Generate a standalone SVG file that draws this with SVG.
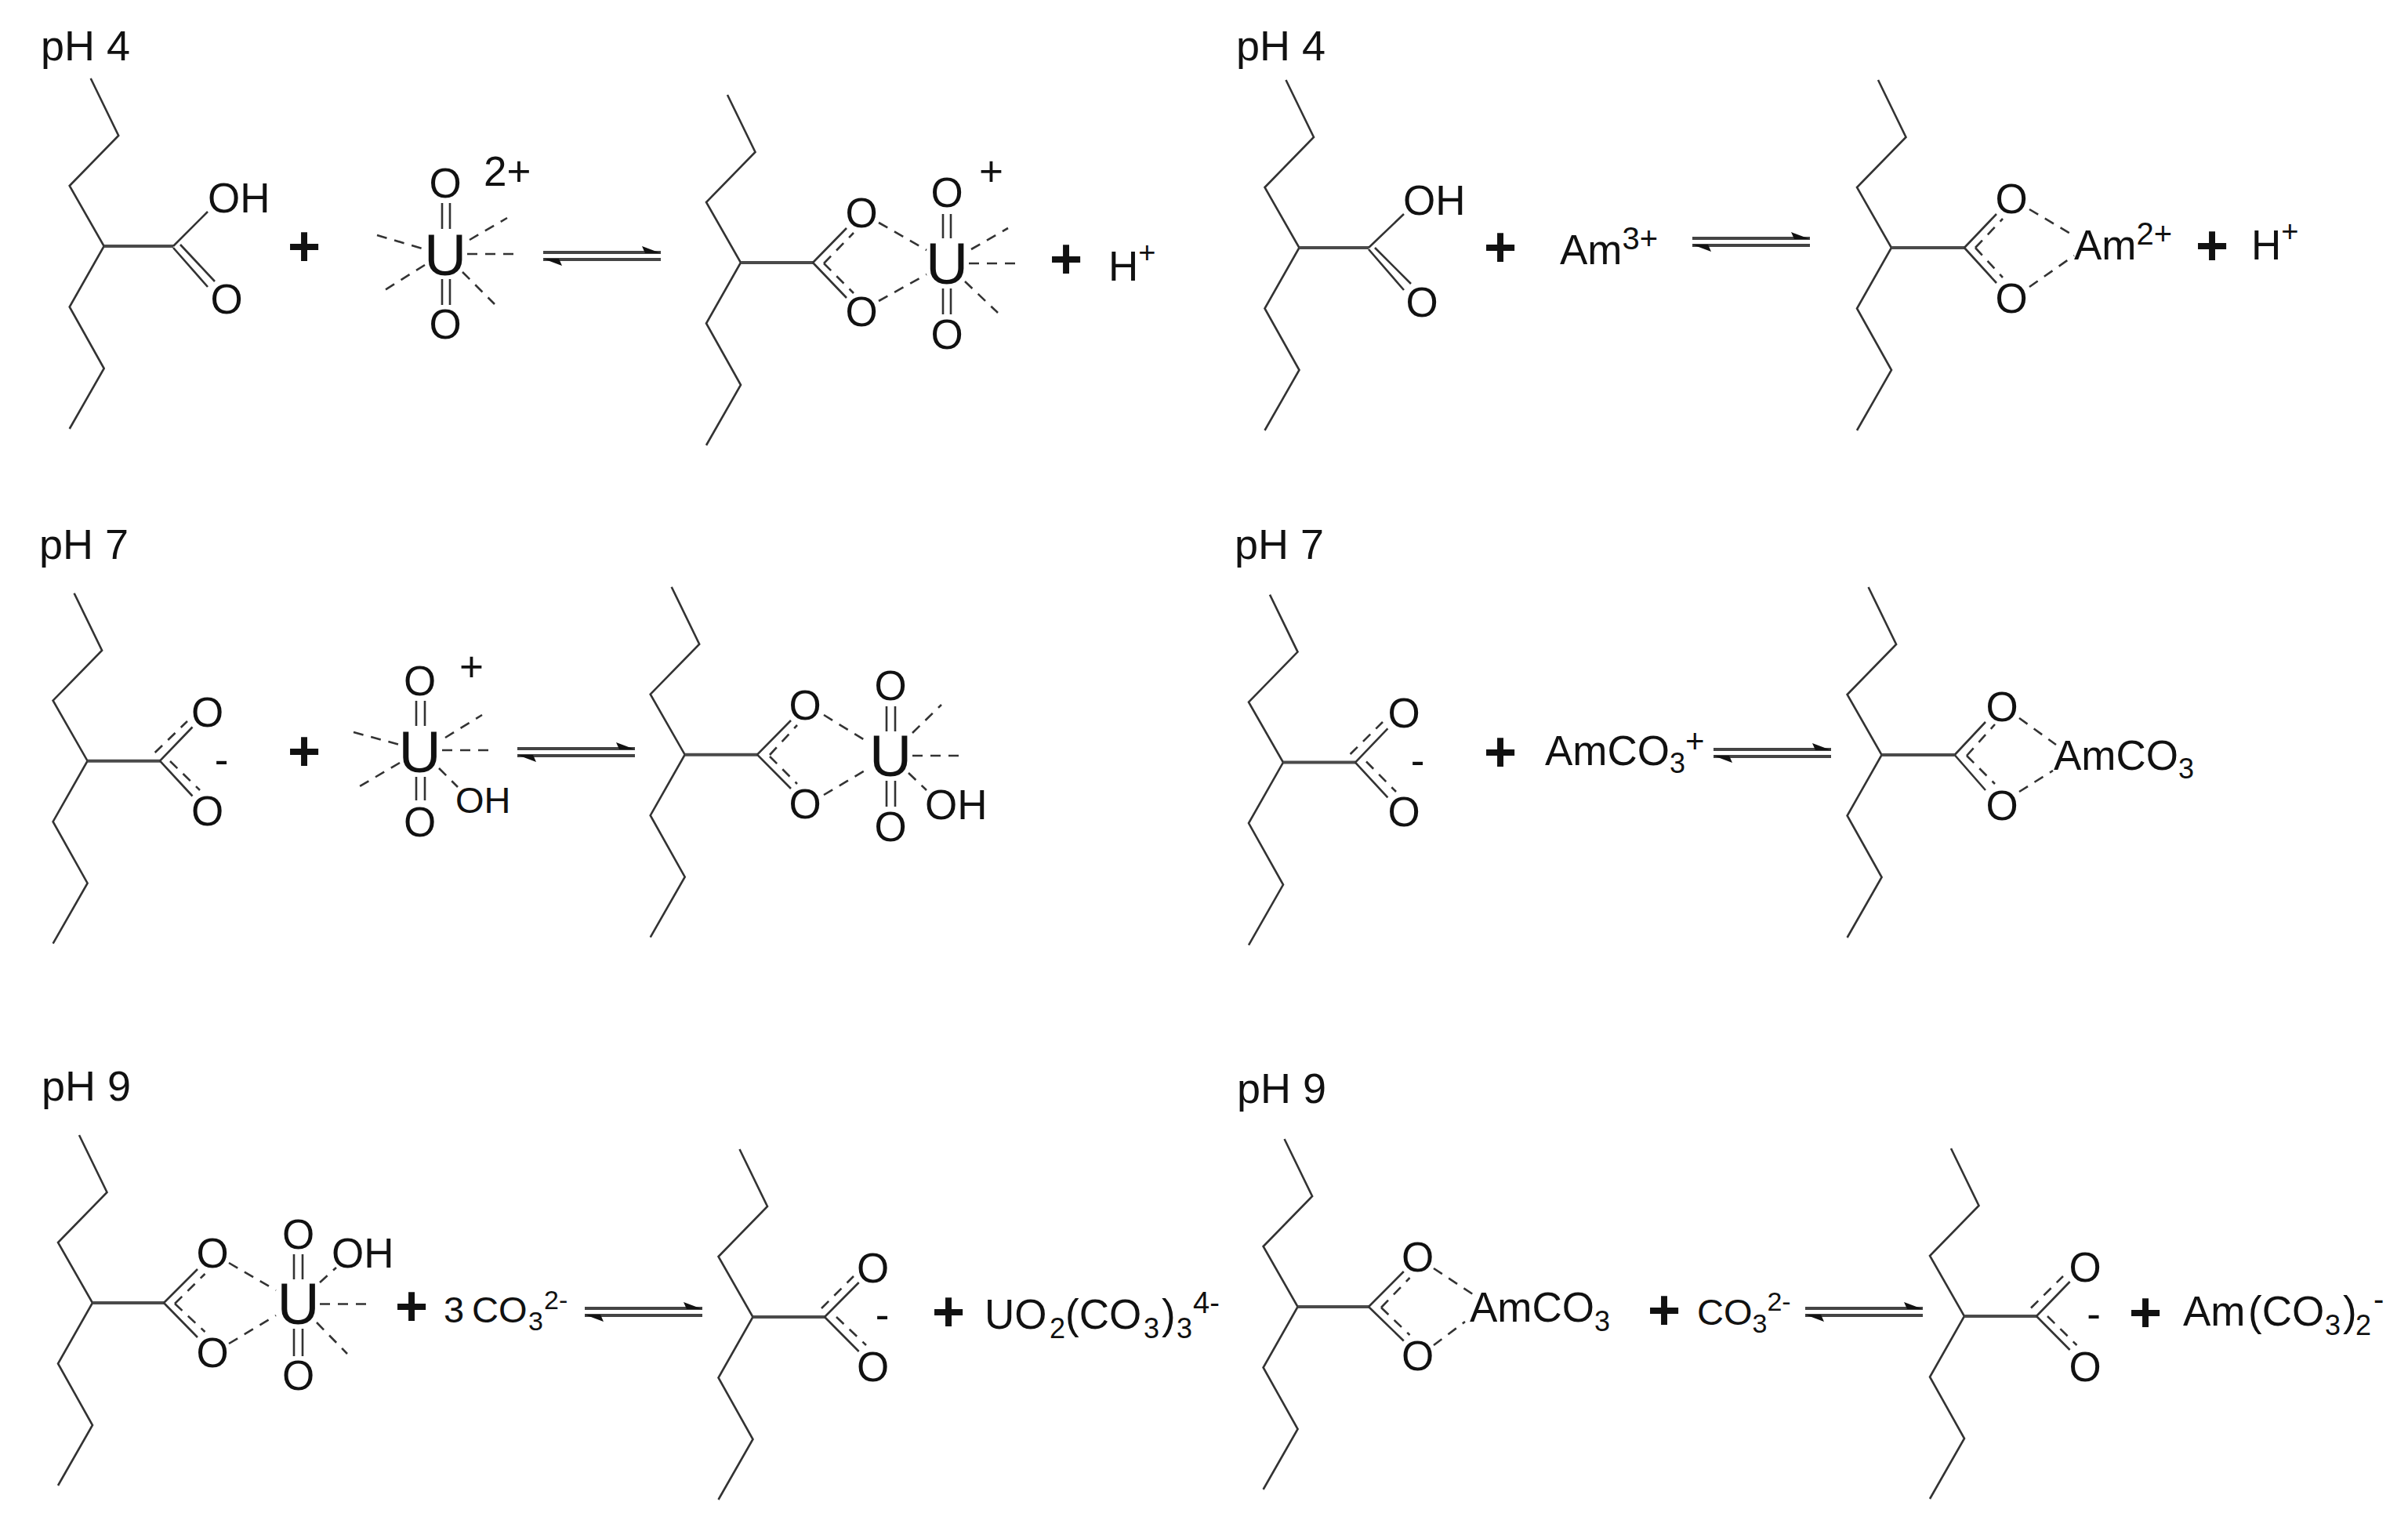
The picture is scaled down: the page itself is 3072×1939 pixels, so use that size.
<svg xmlns="http://www.w3.org/2000/svg" xmlns:xlink="http://www.w3.org/1999/xlink" width="3072" height="1939" viewBox="0 0 3072 1939">
<style>
text{font-family:"Liberation Sans",Arial,sans-serif;fill:#111;font-size:53px}
.m{text-anchor:middle}
.u{font-size:75px;text-anchor:middle}
.p{font-size:72px;font-weight:bold;text-anchor:middle}
.ph{font-size:54px}
.sm{font-size:47px}
.b{fill:none;stroke:#333;stroke-width:2.6}
.c{fill:none;stroke:#4a4a4a;stroke-width:4}
.d{fill:none;stroke:#333;stroke-width:2.6;stroke-dasharray:13 10}
.el{fill:none;stroke:#444;stroke-width:4}
.eh{fill:#111}
</style>
<defs>
<path id="chain" class="b" d="M-17 -214L18.5 -141L-44 -77L0 0L-44 77.5L0 156L-44 233"/>
<g id="eq"><path class="el" d="M0 0H150M0 9H150"/><path class="eh" d="M150 1L126 -8L130 1ZM0 8L24 17L20 8Z"/></g>
</defs>
<rect width="3072" height="1939" fill="#fff"/>

<g id="connectors">
<use href="#eq" x="693" y="322"/>
<use href="#eq" x="2159" y="304"/>
<use href="#eq" x="660" y="955"/>
<use href="#eq" x="2186" y="956"/>
<use href="#eq" x="746" y="1669"/>
<use href="#eq" x="2303" y="1669"/>
</g>

<g id="labels">
<text class="ph" x="52" y="77">pH 4</text>
<text class="ph" x="1577" y="77">pH 4</text>
<text class="ph" x="50" y="713">pH 7</text>
<text class="ph" x="1575" y="713">pH 7</text>
<text class="ph" x="53" y="1404">pH 9</text>
<text class="ph" x="1578" y="1407">pH 9</text>
</g>

<g id="plus-signs">
<text class="p" x="388" y="339">+</text>
<text class="p" x="1360" y="355">+</text>
<text class="p" x="1914" y="340">+</text>
<text class="p" x="2822" y="338">+</text>
<text class="p" x="388" y="983">+</text>
<text class="p" x="1914" y="984">+</text>
<text class="p" x="525" y="1691">+</text>
<text class="p" x="1210" y="1698">+</text>
<text class="p" x="2123" y="1696">+</text>
<text class="p" x="2737" y="1699">+</text>
</g>

<!-- Row 1 left -->
<g id="acid-u-ph4">
<use href="#chain" x="132.7" y="314"/>
<path class="c" d="M132.7 314H221"/>
<path class="b" d="M221 314L265 270M221 316L265 366M230 312L274 359"/>
<text x="265" y="271">OH</text>
<text class="m" x="289" y="400">O</text>
</g>
<g id="uranyl-ph4">
<text class="u" x="568" y="351">U</text>
<text class="m" x="568" y="252">O</text>
<text class="m" x="568" y="432">O</text>
<path class="b" d="M564 259V292M574 259V292M564 356V389M574 356V389"/>
<path class="d" d="M481 300L542 318M599 306L647 278M596 324H660M542 338L491 370M590 347L631 388"/>
<text x="617" y="237">2+</text>
</g>
<g id="complex-u-ph4">
<use href="#chain" x="945" y="335"/>
<path class="c" d="M945 335H1037"/>
<path class="b" d="M1037 335L1080 291M1037 335L1080 380"/>
<path class="d" d="M1051 336L1089 297M1051 336L1089 374M1121 284L1182 319M1121 384L1182 350"/>
<text class="m" x="1099" y="290">O</text>
<text class="m" x="1099" y="416">O</text>
<text class="u" x="1208" y="362">U</text>
<text class="m" x="1208" y="264">O</text>
<text class="m" x="1208" y="445">O</text>
<path class="b" d="M1203 273V304M1213 273V304M1203 368V401M1213 368V401"/>
<path class="d" d="M1239 318L1286 291M1236 336H1298M1231 359L1273 399"/>
<text x="1249" y="237">+</text>
</g>
<g id="proton-u-ph4"><text x="1414" y="358">H<tspan font-size="38" dy="-23">+</tspan></text></g>

<!-- Row 1 right -->
<g id="acid-am-ph4">
<use href="#chain" x="1657.5" y="316"/>
<path class="c" d="M1657.5 316H1746"/>
<path class="b" d="M1746 316L1791 273M1746 318L1791 370M1754 316L1800 362"/>
<text x="1790" y="274">OH</text>
<text class="m" x="1814" y="404">O</text>
</g>
<g id="am3"><text x="1990" y="337">Am<tspan font-size="40" dy="-19">3+</tspan></text></g>
<g id="complex-am-ph4">
<use href="#chain" x="2413" y="316"/>
<path class="c" d="M2413 316H2506"/>
<path class="b" d="M2506 316L2547 273M2506 316L2547 361"/>
<path class="d" d="M2520 316L2555 279M2520 316L2555 354M2589 267L2648 302M2589 366L2646 326"/>
<text class="m" x="2566" y="272">O</text>
<text class="m" x="2566" y="399">O</text>
<text x="2646" y="331">Am<tspan font-size="40" dy="-19">2+</tspan></text>
</g>
<g id="proton-am-ph4"><text x="2872" y="331">H<tspan font-size="38" dy="-23">+</tspan></text></g>

<!-- Row 2 left -->
<g id="carboxylate-u-ph7">
<use href="#chain" x="111.6" y="970.7"/>
<path class="c" d="M111.6 970.7H204"/>
<path class="b" d="M204 970.7L245.5 927.5M204 970.7L245.5 1015.5"/>
<path class="d" d="M197.7 960L239 920M217 971L255 1008"/>
<text class="m" x="264.7" y="927">O</text>
<text class="m" x="264.7" y="1053">O</text>
<text class="m" x="282.5" y="987">-</text>
</g>
<g id="uranyl-ph7">
<text class="u" x="535.7" y="985">U</text>
<text class="m" x="535.7" y="887">O</text>
<text class="m" x="535.7" y="1067">O</text>
<path class="b" d="M531 894V926M542 894V926M531 991V1021M542 991V1021"/>
<path class="d" d="M451 934L510 950M568 941L615 912M564 957H628M510 973L459 1003M560 980L584 1004"/>
<text x="586" y="869">+</text>
<text class="sm" x="581" y="1037">OH</text>
</g>
<g id="complex-u-ph7">
<use href="#chain" x="873.7" y="962.7"/>
<path class="c" d="M873.7 962.7H966"/>
<path class="b" d="M966 962.7L1009 919M966 962.7L1009 1006"/>
<path class="d" d="M982 963L1017 925M982 965L1017 1000M1051 912L1108 947M1051 1014L1110 979"/>
<text class="m" x="1027" y="918">O</text>
<text class="m" x="1027" y="1044">O</text>
<text class="u" x="1136" y="990">U</text>
<text class="m" x="1136" y="893">O</text>
<text class="m" x="1136" y="1073">O</text>
<path class="b" d="M1131 901V933M1142 901V933M1131 996V1029M1142 996V1029"/>
<path class="d" d="M1164 935L1201 899M1164 964H1226M1159 986L1182 1008"/>
<text x="1180" y="1045">OH</text>
</g>

<!-- Row 2 right -->
<g id="carboxylate-am-ph7">
<use href="#chain" x="1637" y="972.6"/>
<path class="c" d="M1637 972.6H1729"/>
<path class="b" d="M1729 972.6L1770.4 929.4M1729 972.6L1770.4 1017.4"/>
<path class="d" d="M1722.6 962L1764 921M1743 971.5L1781 1010"/>
<text class="m" x="1791" y="928">O</text>
<text class="m" x="1791" y="1054">O</text>
<text class="m" x="1808.7" y="988">-</text>
</g>
<g id="amco3-plus"><text x="1971" y="976">AmCO<tspan font-size="36" dy="10">3</tspan><tspan font-size="42" dy="-26">+</tspan></text></g>
<g id="complex-am-ph7">
<use href="#chain" x="2400.6" y="963"/>
<path class="c" d="M2400.6 963H2493.6"/>
<path class="b" d="M2493.6 963L2533 921M2493.6 963L2533 1008"/>
<path class="d" d="M2509 964L2545 924M2509 964L2545 1000M2576 916L2623 950M2576 1010L2619 983"/>
<text class="m" x="2554" y="920">O</text>
<text class="m" x="2554" y="1046">O</text>
<text x="2620" y="982">AmCO<tspan font-size="36" dy="11">3</tspan></text>
</g>

<!-- Row 3 left -->
<g id="complex-u-ph9">
<use href="#chain" x="118" y="1662"/>
<path class="c" d="M118 1662H209"/>
<path class="b" d="M209 1662L252 1619M209 1662L252 1706"/>
<path class="d" d="M223 1663L261.5 1625M223 1663L261.5 1699M292 1611L352 1646M292 1714L352 1678"/>
<text class="m" x="271" y="1617">O</text>
<text class="m" x="271" y="1744">O</text>
<text class="u" x="380.7" y="1689">U</text>
<text class="m" x="380.7" y="1593">O</text>
<text class="m" x="380.7" y="1773">O</text>
<path class="b" d="M375 1600V1632M386 1600V1632M375 1695V1730M386 1695V1730"/>
<path class="d" d="M408 1636L429 1617M408 1663.5H472M404 1687L443 1727"/>
<text x="423" y="1617">OH</text>
</g>
<g id="carbonate-3"><text class="sm" x="566" y="1687">3</text><text class="sm" x="602" y="1687">CO<tspan x="674" y="1697" font-size="34">3</tspan><tspan x="694" y="1670" font-size="34">2-</tspan></text></g>
<g id="carboxylate-u-ph9">
<use href="#chain" x="960.5" y="1680"/>
<path class="c" d="M960.5 1680H1052"/>
<path class="b" d="M1052 1680L1095.7 1636M1052 1680L1095.7 1724"/>
<path class="d" d="M1048 1669L1089 1628M1067 1680L1105 1716"/>
<text class="m" x="1113.5" y="1636">O</text>
<text class="m" x="1113.5" y="1762">O</text>
<text class="m" x="1125.6" y="1695">-</text>
</g>
<g id="uranyl-carbonate"><text x="1256" y="1695" font-size="54">UO<tspan x="1339" y="1707" font-size="36">2</tspan><tspan x="1359" y="1695">(CO</tspan><tspan x="1459" y="1707" font-size="36">3</tspan><tspan x="1482" y="1695">)</tspan><tspan x="1501" y="1707" font-size="36">3</tspan><tspan x="1522" y="1675" font-size="38">4-</tspan></text></g>

<!-- Row 3 right -->
<g id="complex-am-ph9">
<use href="#chain" x="1655.6" y="1667"/>
<path class="c" d="M1655.6 1667H1746"/>
<path class="b" d="M1746 1667L1790.8 1622M1746 1667L1790.8 1710.5"/>
<path class="d" d="M1762 1668L1798.5 1630M1762 1668L1798.5 1703M1829 1618L1879 1651M1829 1716L1869 1686"/>
<text class="m" x="1808.7" y="1622">O</text>
<text class="m" x="1808.7" y="1748">O</text>
<text x="1875" y="1686">AmCO<tspan font-size="36" dy="12">3</tspan></text>
</g>
<g id="carbonate-1"><text class="sm" x="2165" y="1690">CO<tspan font-size="34" dy="10">3</tspan><tspan font-size="34" dy="-28">2-</tspan></text></g>
<g id="carboxylate-am-ph9">
<use href="#chain" x="2506" y="1679"/>
<path class="c" d="M2506 1679H2598"/>
<path class="b" d="M2598 1679L2640.6 1635M2598 1679L2640.6 1722"/>
<path class="d" d="M2591 1668.5L2632 1628M2612 1679L2649.5 1716"/>
<text class="m" x="2660" y="1635">O</text>
<text class="m" x="2660" y="1762">O</text>
<text class="m" x="2671" y="1694">-</text>
</g>
<g id="am-carbonate"><text x="2785" y="1691">Am<tspan x="2868" y="1691">(CO</tspan><tspan x="2966" y="1703" font-size="36">3</tspan><tspan x="2989" y="1691">)</tspan><tspan x="3005" y="1703" font-size="36">2</tspan><tspan x="3028" y="1671" font-size="40">-</tspan></text></g>
</svg>
